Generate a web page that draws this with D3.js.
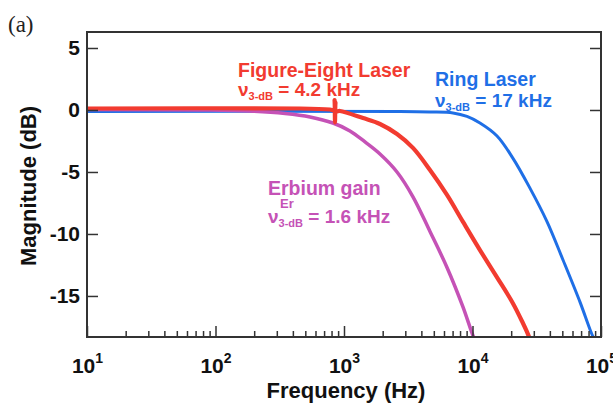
<!DOCTYPE html>
<html>
<head>
<meta charset="utf-8">
<script src="https://cdn.jsdelivr.net/npm/d3@7"></script>
<style>
  body { margin: 0; background: #fff; }
  svg { display: block; font-family: "Liberation Sans", Arial, sans-serif; }
  .axis path { display: none; }
  .axis line { stroke: #333; stroke-width: 1.5; }
  .axis text { font-size: 21px; font-weight: bold; fill: #111; }
</style>
</head>
<body>
<svg id="chart" width="613" height="405"></svg>
<script>
// frequency axis ticks (Hz) and magnitude ticks (dB)
var freqTicks = [10, 100, 1000, 10000, 100000];
var freqExp = ["1", "2", "3", "4", "5"];
var dbTicks = [-15, -10, -5, 0, 5];

// ring laser (blue)
var ringFreq = [10, 2730, 4670, 7050, 9060, 11430, 15520, 20660, 27990, 38000, 50640, 68690, 82100, 88300];
var ringDb   = [-0.12, -0.12, -0.16, -0.24, -0.52, -1.05, -2.1, -3.9, -6.3, -9.0, -12.1, -15.5, -17.7, -18.5];

// erbium gain (magenta)
var erFreq = [10, 76, 185, 348, 544, 820, 1113, 1457, 1905, 2585, 3441, 4668, 6333, 8440, 10090, 10840];
var erDb   = [0.04, 0, -0.08, -0.28, -0.56, -1.05, -1.69, -2.58, -3.55, -5.0, -7.0, -9.8, -12.7, -15.9, -18.2, -18.9];

// figure-eight laser (red), incl. the glitch near 850 Hz
var f8Freq = [10, 455, 778, 835, 845, 851, 858, 866, 931, 1406, 1905, 2585, 3441, 4668, 6333, 8440, 11430, 15520, 20660, 24710, 26550, 27540];
var f8Db   = [0.12, 0.12, 0.04, 0.0, 0.8, -1.0, 0.6, -0.1, -0.08, -0.65, -1.13, -1.94, -3.06, -4.84, -6.85, -9.03, -11.3, -13.5, -15.6, -17.2, -17.9, -18.3];

var svg = d3.select("#chart");
var pLeft = 87, pRight = 601, pTop = 32, pBottom = 337;

var x = d3.scaleLog().domain([10, 100000]).range([pLeft, pRight]);
var y = d3.scaleLinear().domain([-18.31, 6.29]).range([pBottom, pTop]);

svg.append("defs").append("clipPath").attr("id", "clip")
  .append("rect").attr("x", pLeft).attr("y", pTop)
  .attr("width", pRight - pLeft).attr("height", pBottom - pTop);

function toPts(fs, ds) {
  return fs.map(function(f, i) { return [f, ds[i]]; });
}

var line = d3.line()
  .x(function(d) { return x(d[0]); })
  .y(function(d) { return y(d[1]); })
  .curve(d3.curveCatmullRom.alpha(0.5));

var series = [
  { pts: toPts(ringFreq, ringDb), color: "#1f6fe6", w: 3 },
  { pts: toPts(erFreq, erDb), color: "#c552b6", w: 3.5 },
  { pts: toPts(f8Freq, f8Db), color: "#f23b30", w: 4.2 }
];

var g = svg.append("g").attr("clip-path", "url(#clip)");
series.forEach(function(s) {
  g.append("path")
    .attr("d", line(s.pts))
    .attr("fill", "none")
    .attr("stroke", s.color)
    .attr("stroke-width", s.w)
    .attr("stroke-linejoin", "round")
    .attr("stroke-linecap", "round");
});

// minor ticks on the log axis
var minor = [];
for (var dec = 10; dec < 100000; dec *= 10) {
  for (var k = 2; k <= 9; k++) minor.push(dec * k);
}

svg.append("g").attr("class", "axis")
  .attr("transform", "translate(0," + pBottom + ")")
  .call(d3.axisBottom(x).tickValues(minor).tickSize(-6).tickFormat(""));

var xAxis = svg.append("g").attr("class", "axis")
  .attr("transform", "translate(0," + pBottom + ")")
  .call(d3.axisBottom(x).tickValues(freqTicks).tickSize(-11).tickFormat(""));

xAxis.selectAll(".tick").append("text")
  .attr("y", 36)
  .attr("text-anchor", "middle")
  .each(function(d, i) {
    var t = d3.select(this);
    t.append("tspan").text("10");
    t.append("tspan").attr("dy", -10).style("font-size", "14px").text(freqExp[i]);
  });

svg.append("g").attr("class", "axis")
  .attr("transform", "translate(" + pLeft + ",0)")
  .call(d3.axisLeft(y).tickValues(dbTicks).tickSize(-11).tickPadding(7)
    .tickFormat(function(d) { return d < 0 ? "-" + Math.abs(d) : d; }));

svg.append("g").attr("class", "axis")
  .attr("transform", "translate(" + pRight + ",0)")
  .call(d3.axisRight(y).tickValues(dbTicks).tickSize(-11).tickFormat(""));

svg.append("rect")
  .attr("x", pLeft).attr("y", pTop)
  .attr("width", pRight - pLeft).attr("height", pBottom - pTop)
  .attr("fill", "none").attr("stroke", "#333").attr("stroke-width", 2);

// titles
svg.append("text")
  .attr("x", 346).attr("y", 398)
  .attr("text-anchor", "middle")
  .style("font-size", "22px").style("font-weight", "bold").style("fill", "#111")
  .text("Frequency (Hz)");

svg.append("text")
  .attr("transform", "translate(36,186) rotate(-90)")
  .attr("text-anchor", "middle")
  .style("font-size", "22px").style("font-weight", "bold").style("fill", "#111")
  .text("Magnitude (dB)");

svg.append("text")
  .attr("x", 8).attr("y", 32)
  .style("font-family", "'Liberation Serif', 'DejaVu Serif', serif")
  .style("font-size", "23px").style("fill", "#222")
  .text("(a)");

// annotations
function nuLabel(xp, yp, color, value, sup) {
  var t = svg.append("text").attr("x", xp).attr("y", yp)
    .style("font-weight", "bold").style("font-size", "19px").style("fill", color);
  t.append("tspan").text("\u03bd");
  t.append("tspan").attr("dy", 4).style("font-size", "11px").text("3-dB");
  t.append("tspan").attr("dy", -4).text(" = " + value);
  if (sup) {
    svg.append("text").attr("x", xp + 12).attr("y", yp - 15)
      .style("font-weight", "bold").style("font-size", "13px").style("fill", color)
      .text(sup);
  }
}

svg.append("text").attr("x", 238).attr("y", 77)
  .style("font-weight", "bold").style("font-size", "19.5px").style("fill", "#f23b30")
  .text("Figure-Eight Laser");
nuLabel(238, 96, "#f23b30", "4.2 kHz");

svg.append("text").attr("x", 435).attr("y", 86)
  .style("font-weight", "bold").style("font-size", "19.5px").style("fill", "#1f6fe6")
  .text("Ring Laser");
nuLabel(435, 107, "#1f6fe6", "17 kHz");

svg.append("text").attr("x", 268).attr("y", 195)
  .style("font-weight", "bold").style("font-size", "19.5px").style("fill", "#c552b6")
  .text("Erbium gain");
nuLabel(268, 223, "#c552b6", "1.6 kHz", "Er");
</script>
</body>
</html>
